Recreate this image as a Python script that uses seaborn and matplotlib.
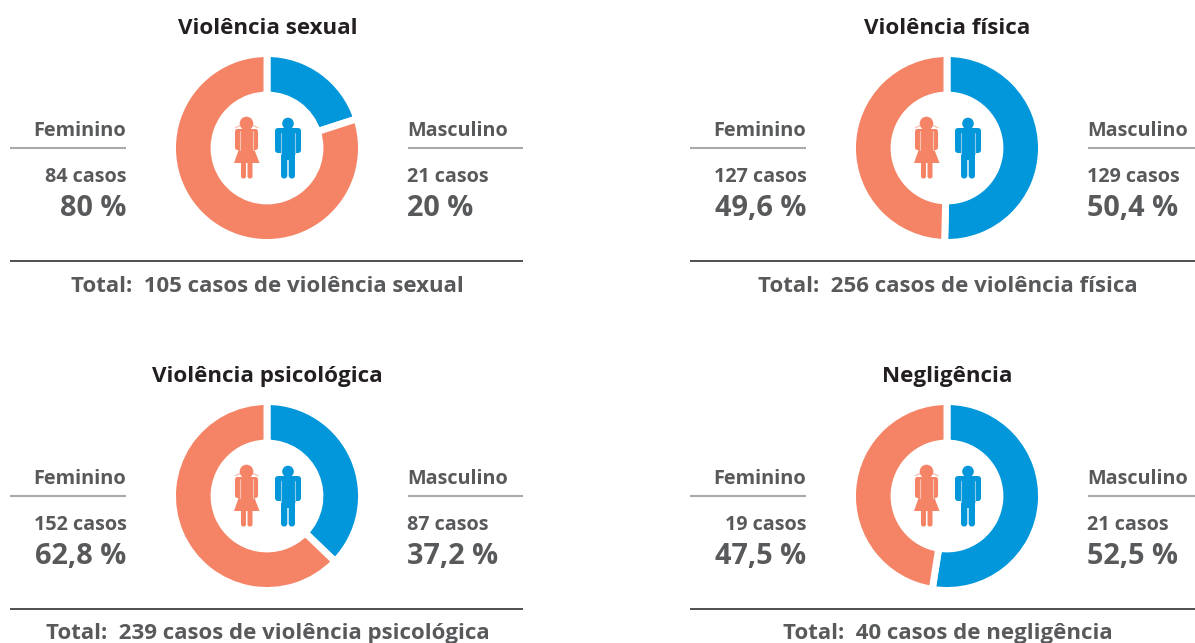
import matplotlib
matplotlib.use("Agg")
import matplotlib.pyplot as plt
import seaborn as sns
from matplotlib.patches import Circle, Polygon, FancyBboxPatch

titles = ["Violência sexual", "Violência física", "Violência psicológica", "Negligência"]
fem_cases = [84, 127, 152, 19]
masc_cases = [21, 129, 87, 21]
fem_pct = [80, 49.6, 62.8, 47.5]
masc_pct = [20, 50.4, 37.2, 52.5]
totals = ["105 casos de violência sexual", "256 casos de violência física",
          "239 casos de violência psicológica", "40 casos de negligência"]
offsets = [(0, 0), (680, 0), (0, 348), (680, 348)]

ORANGE = "#F58467"
BLUE = "#0296DA"
GREY = "#58595B"
BLACK = "#231F20"
RULE = "#A7A9AC"

sns.set_theme(style="white")
plt.rcParams["font.family"] = ["Open Sans", "DejaVu Sans"]

W, H = 1195, 643
fig = plt.figure(figsize=(W / 100, H / 100), dpi=100, facecolor="white")
bg = fig.add_axes([0, 0, 1, 1])
bg.set_xlim(0, W)
bg.set_ylim(H, 0)
bg.axis("off")


def pct(v):
    return f"{v:g}".replace(".", ",") + " %"


def rbox(ax, x0, y0, x1, y1, color, r=1.5):
    ax.add_patch(FancyBboxPatch((x0 + r, y0 + r), x1 - x0 - 2 * r, y1 - y0 - 2 * r,
                                boxstyle=f"round,pad={r},rounding_size={r}",
                                fc=color, ec="none", zorder=5))


def boy(ax, dx, dy):
    c = BLUE
    ax.add_patch(Circle((288 + dx, 123.5 + dy), 5.8, fc=c, ec="none", zorder=5))
    rbox(ax, 275 + dx, 128 + dy, 301 + dx, 153 + dy, c, 3)
    rbox(ax, 281 + dx, 128 + dy, 295 + dx, 160 + dy, c, 1)
    rbox(ax, 281 + dx, 150 + dy, 287.3 + dx, 178.5 + dy, c, 3)
    rbox(ax, 288.7 + dx, 150 + dy, 295 + dx, 178.5 + dy, c, 3)
    ax.plot([281 + dx, 281 + dx], [133 + dy, 153.5 + dy], color="#8CCBEC", lw=0.8, zorder=6)
    ax.plot([295 + dx, 295 + dx], [133 + dy, 153.5 + dy], color="#8CCBEC", lw=0.8, zorder=6)


def girl(ax, dx, dy):
    c = ORANGE
    ax.add_patch(Circle((246.5 + dx, 123.5 + dy), 6.8, fc=c, ec="none", zorder=5))
    ax.add_patch(Polygon([(235 + dx, 128 + dy), (241 + dx, 125 + dy), (245 + dx, 130 + dy),
                          (248 + dx, 130 + dy), (252 + dx, 125 + dy), (258.5 + dx, 128 + dy)],
                         closed=False, fill=False, ec="#F9B9A6", lw=0.8, zorder=4))
    rbox(ax, 235 + dx, 129 + dy, 258 + dx, 150 + dy, c, 2.5)
    ax.add_patch(Polygon([(240 + dx, 130 + dy), (253 + dx, 130 + dy), (253 + dx, 146 + dy),
                          (259.5 + dx, 163 + dy), (234 + dx, 163 + dy), (240 + dx, 146 + dy)],
                         fc=c, ec="none", zorder=5))
    rbox(ax, 241 + dx, 158 + dy, 246 + dx, 178.5 + dy, c, 2.2)
    rbox(ax, 247.5 + dx, 158 + dy, 252.5 + dx, 178.5 + dy, c, 2.2)
    for x in (240, 253):
        ax.plot([x + dx, x + dx], [131 + dy, 150 + dy], color="#F9C3B3", lw=0.8, zorder=6)


for i, (dx, dy) in enumerate(offsets):
    cx, cy, half = 267 + dx, 148 + dy, 94.5
    pax = fig.add_axes([(cx - half) / W, 1 - (cy + half) / H, 2 * half / W, 2 * half / H])
    pax.pie([masc_pct[i], fem_pct[i]], colors=[BLUE, ORANGE], startangle=90, counterclock=False,
            radius=1, normalize=True,
            wedgeprops=dict(width=0.44, edgecolor="white", linewidth=5))
    pax.set_xlim(-1, 1)
    pax.set_ylim(-1, 1)
    pax.axis("off")

    girl(bg, dx, dy)
    boy(bg, dx, dy)

    bg.text(267.5 + dx, 28.5 + dy, titles[i], ha="center", va="center", fontsize=16.1,
            fontweight="bold", color=BLACK)

    bg.text(126.5 + dx, 131.5 + dy, "Feminino", ha="right", va="center", fontsize=14.4,
            fontweight="bold", color=GREY)
    bg.plot([10 + dx, 126 + dx], [148 + dy, 148 + dy], color=RULE, lw=1.5, solid_capstyle="butt")
    bg.text(126.5 + dx, 177 + dy, f"{fem_cases[i]} casos", ha="right", va="center", fontsize=14.2,
            fontweight="bold", color=GREY)
    bg.text(126.5 + dx, 208.5 + dy, pct(fem_pct[i]), ha="right", va="center", fontsize=20.8,
            fontweight="bold", color=GREY)

    bg.text(407 + dx, 131.5 + dy, "Masculino", ha="left", va="center", fontsize=14.2,
            fontweight="bold", color=GREY)
    bg.plot([408 + dx, 523 + dx], [148 + dy, 148 + dy], color=RULE, lw=1.5, solid_capstyle="butt")
    bg.text(407 + dx, 177 + dy, f"{masc_cases[i]} casos", ha="left", va="center", fontsize=14.2,
            fontweight="bold", color=GREY)
    bg.text(407 + dx, 208.5 + dy, pct(masc_pct[i]), ha="left", va="center", fontsize=20.8,
            fontweight="bold", color=GREY)

    bg.plot([10 + dx, 523 + dx], [261 + dy, 261 + dy], color=BLACK, lw=1.1, solid_capstyle="butt")
    bg.text(267.5 + dx, 286 + dy, f"Total:  {totals[i]}", ha="center", va="center", fontsize=16,
            fontweight="bold", color=GREY)

fig.savefig("out.png", dpi=100, facecolor="white")
